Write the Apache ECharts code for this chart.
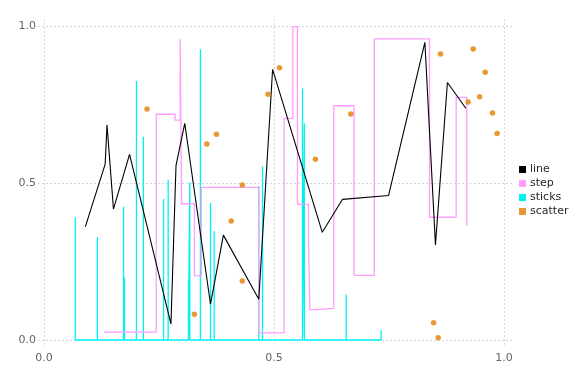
<!DOCTYPE html>
<html>
<head>
<meta charset="utf-8">
<script src="https://cdn.jsdelivr.net/npm/echarts@6/dist/echarts.min.js"></script>
<style>html,body{margin:0;padding:0;background:#fff}#c{width:576px;height:384px}</style>
</head>
<body>
<div id="c"></div>
<script>
const tickValues = [0, 0.5, 1.0];
const tickLabels = ['0.0', '0.5', '1.0'];

const lineX = [0.090, 0.133, 0.137, 0.151, 0.186, 0.276, 0.287, 0.306, 0.362, 0.390, 0.467, 0.497, 0.605, 0.649, 0.749, 0.828, 0.851, 0.877, 0.917];
const lineY = [0.361, 0.560, 0.685, 0.417, 0.591, 0.051, 0.555, 0.690, 0.114, 0.334, 0.130, 0.862, 0.343, 0.448, 0.460, 0.948, 0.303, 0.820, 0.738];

const stepX = [0.130, 0.244, 0.285, 0.296, 0.299, 0.327, 0.342, 0.467, 0.522, 0.541, 0.551, 0.575, 0.578, 0.585, 0.630, 0.674, 0.718, 0.838, 0.896, 0.919];
const stepY = [0.025, 0.719, 0.700, 0.958, 0.434, 0.204, 0.486, 0.023, 0.706, 0.998, 0.432, 0.313, 0.096, 0.101, 0.746, 0.206, 0.959, 0.391, 0.773, 0.363];

const stickX = [0.068, 0.116, 0.173, 0.175, 0.201, 0.216, 0.260, 0.270, 0.314, 0.317, 0.340, 0.362, 0.370, 0.409, 0.467, 0.475, 0.562, 0.566, 0.657, 0.733];
const stickY = [0.391, 0.327, 0.424, 0.198, 0.825, 0.647, 0.449, 0.511, 0.193, 0.502, 0.926, 0.436, 0.347, 0.005, 0.490, 0.553, 0.801, 0.690, 0.145, 0.032];

const scatterX = [0.224, 0.327, 0.354, 0.375, 0.407, 0.431, 0.431, 0.487, 0.512, 0.590, 0.667, 0.847, 0.857, 0.862, 0.922, 0.933, 0.947, 0.959, 0.975, 0.985];
const scatterY = [0.736, 0.082, 0.624, 0.655, 0.379, 0.494, 0.188, 0.783, 0.867, 0.576, 0.720, 0.055, 0.007, 0.911, 0.758, 0.927, 0.775, 0.853, 0.723, 0.658];

const seriesNames = ['line', 'step', 'sticks', 'scatter'];
const colors = ['#000000', '#ff9cff', '#00f2f2', '#e38000'];

const zip = (xs, ys) => xs.map((x, i) => [x, ys[i]]);
const stickData = [];
stickX.forEach((x, i) => { stickData.push([x, 0], [x, stickY[i]], [x, 0]); });

const fontFamily = 'DejaVu Sans';
const labelFmt = v => { const i = tickValues.findIndex(t => Math.abs(t - v) < 1e-9); return i >= 0 ? tickLabels[i] : ''; };

const chart = echarts.init(document.getElementById('c'), null, { renderer: 'canvas' });
chart.setOption({
  animation: false,
  backgroundColor: '#ffffff',
  grid: { left: 38, right: 64, top: 19, bottom: 38, containLabel: false },
  xAxis: {
    type: 'value', min: -0.013, max: 1.0174,
    axisLine: { show: false },
    axisTick: { show: false, customValues: tickValues },
    axisLabel: { customValues: tickValues, formatter: labelFmt, color: '#6c606b', fontSize: 11, fontFamily, margin: 7 },
    splitLine: { show: true, lineStyle: { color: '#d6d6e4', type: [2, 2], width: 1 } }
  },
  yAxis: {
    type: 'value', min: -0.0191, max: 1.0223,
    axisLine: { show: false },
    axisTick: { show: false, customValues: tickValues },
    axisLabel: { customValues: tickValues, formatter: labelFmt, color: '#6c606b', fontSize: 11, fontFamily, margin: 2 },
    splitLine: { show: true, lineStyle: { color: '#d6d6e4', type: [2, 2], width: 1 } }
  },
  legend: {
    orient: 'vertical', left: 514, top: 159,
    itemWidth: 7, itemHeight: 7, itemGap: 3,
    icon: 'rect',
    textStyle: { color: '#2c252b', fontSize: 11, fontFamily, padding: [0, 0, 0, -1] },
    data: seriesNames
  },
  series: [
    {
      name: seriesNames[2], type: 'line', data: stickData, showSymbol: false, z: 2,
      color: colors[2], lineStyle: { color: colors[2], width: 1.3 }
    },
    {
      name: seriesNames[1], type: 'line', step: 'end', data: zip(stepX, stepY), showSymbol: false, z: 3,
      color: colors[1], lineStyle: { color: colors[1], width: 1.3 }
    },
    {
      name: seriesNames[0], type: 'line', data: zip(lineX, lineY), showSymbol: false, z: 4,
      color: colors[0], lineStyle: { color: colors[0], width: 1.1 }
    },
    {
      name: seriesNames[3], type: 'scatter', data: zip(scatterX, scatterY), symbol: 'circle', symbolSize: 5.5, z: 5,
      color: colors[3], itemStyle: { color: colors[3] }
    }
  ]
});
</script>
</body>
</html>
